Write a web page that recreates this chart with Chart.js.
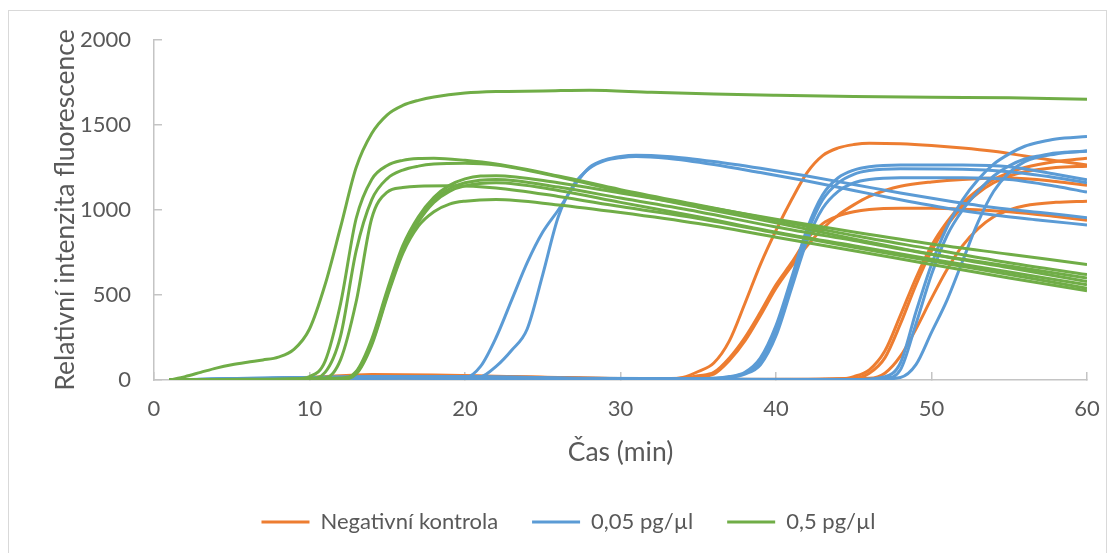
<!DOCTYPE html>
<html>
<head>
<meta charset="utf-8">
<script src="https://cdn.jsdelivr.net/npm/chart.js@4.4.1/dist/chart.umd.min.js"></script>
<style>
  html, body { margin: 0; padding: 0; background: #fff; }
  #frame { position: absolute; left: 8px; top: 10px; width: 1097px; height: 560px; border: 1px solid #d9d9d9; }
  #plot { position: absolute; left: 0; top: 0; }
</style>
</head>
<body>
<div id="frame"></div>
<canvas id="plot" width="1114" height="553"></canvas>
<script>
// fluorescence curves, [time (min), relative intensity]
const negativeControl = [
  [[1,0],[5,5],[10,15],[14,32],[18,30],[22,22],[26,14],[30,8],[33,5],[34,15],[35,50],[36,100],[37,230],[38,450],[39,680],[40,880],[41,1060],[42,1220],[43,1320],[44,1365],[45,1385],[46,1393],[48,1390],[50,1380],[52,1365],[54,1345],[56,1318],[58,1290],[60,1265]],
  [[1,0],[6,4],[12,12],[18,20],[24,15],[30,8],[34,10],[35,25],[36,45],[37,130],[38,250],[39,400],[40,560],[41,690],[42,830],[43,920],[44,965],[45,990],[46,1003],[48,1010],[50,1010],[52,1005],[55,990],[58,962],[60,940]],
  [[1,0],[6,3],[12,10],[18,18],[24,12],[30,6],[34,8],[35,20],[36,35],[37,115],[38,230],[39,380],[40,540],[41,670],[42,790],[43,890],[44,970],[45,1030],[46,1080],[47,1115],[48,1140],[50,1165],[52,1180],[55,1188],[58,1168],[60,1145]],
  [[1,0],[8,6],[15,20],[20,22],[28,10],[36,4],[44,3],[45,20],[46,60],[47,170],[48,380],[49,600],[50,790],[51,930],[52,1040],[53,1120],[54,1180],[55,1220],[56,1250],[58,1285],[60,1305]],
  [[1,0],[8,4],[15,15],[22,18],[30,8],[38,3],[45,10],[46,40],[47,130],[48,330],[49,560],[50,760],[51,910],[52,1020],[53,1100],[54,1160],[55,1200],[56,1225],[58,1250],[60,1258]],
  [[1,0],[8,3],[15,10],[22,12],[30,6],[40,2],[46,10],[47,40],[48,140],[49,300],[50,480],[51,650],[52,790],[53,890],[54,960],[55,1000],[56,1025],[58,1045],[60,1052]]
];

const conc005 = [
  [[1,0],[5,8],[10,15],[15,20],[19,15],[20,14],[21,80],[22,250],[23,470],[24,690],[25,870],[26,1000],[27,1140],[28,1250],[29,1295],[30,1315],[31,1322],[33,1315],[36,1285],[39,1245],[42,1200],[45,1150],[48,1100],[51,1055],[54,1015],[57,985],[60,955]],
  [[1,0],[5,6],[10,12],[15,18],[20,12],[21,18],[22,80],[23,175],[24,300],[25,620],[26,960],[27,1150],[28,1245],[29,1290],[30,1308],[31,1315],[33,1305],[36,1268],[39,1220],[42,1170],[45,1115],[48,1060],[51,1010],[54,970],[57,940],[60,912]],
  [[1,0],[6,10],[12,18],[20,20],[28,10],[35,8],[37,20],[38,45],[39,130],[40,320],[41,600],[42,890],[43,1090],[44,1190],[45,1235],[46,1255],[48,1265],[52,1265],[55,1255],[58,1210],[60,1178]],
  [[1,0],[6,8],[12,15],[20,18],[28,9],[35,6],[37,16],[38,40],[39,110],[40,290],[41,570],[42,860],[43,1060],[44,1160],[45,1210],[46,1232],[48,1242],[52,1240],[55,1225],[58,1190],[60,1160]],
  [[1,0],[6,7],[12,14],[20,16],[28,8],[35,5],[37,14],[38,35],[39,90],[40,260],[41,540],[42,820],[43,1010],[44,1110],[45,1160],[46,1180],[48,1190],[52,1190],[55,1180],[58,1140],[60,1105]],
  [[1,0],[8,10],[16,15],[25,8],[35,5],[45,3],[47,20],[48,100],[49,400],[50,680],[51,900],[52,1060],[53,1180],[54,1270],[55,1330],[56,1375],[57,1400],[58,1418],[60,1432]],
  [[1,0],[8,8],[16,12],[25,6],[35,4],[45,2],[47,10],[48,60],[49,330],[50,620],[51,850],[52,1000],[53,1110],[54,1200],[55,1260],[56,1300],[57,1320],[58,1335],[60,1345]],
  [[1,0],[8,6],[16,10],[25,5],[35,3],[46,2],[48,15],[49,90],[50,280],[51,470],[52,700],[53,930],[54,1110],[55,1220],[56,1285],[58,1330],[60,1348]]
];

const conc05 = [
  [[1,0],[2,20],[3,45],[4,70],[5,90],[6,105],[7,118],[8,135],[9,180],[10,300],[11,560],[12,900],[13,1250],[14,1450],[15,1560],[16,1615],[17,1645],[18,1665],[20,1688],[22,1697],[25,1700],[28,1705],[32,1692],[36,1682],[40,1675],[45,1668],[50,1663],[55,1660],[60,1652]],
  [[1,0],[5,3],[9,6],[10,20],[11,110],[12,450],[13,950],[14,1180],[15,1262],[16,1292],[17,1303],[18,1305],[20,1292],[22,1270],[26,1200],[30,1120],[35,1030],[40,940],[45,850],[50,770],[55,690],[60,620]],
  [[1,0],[5,2],[10,8],[11,45],[12,260],[13,760],[14,1060],[15,1185],[16,1235],[17,1258],[18,1270],[20,1275],[22,1265],[26,1195],[30,1110],[35,1015],[40,925],[45,830],[50,740],[55,660],[60,580]],
  [[1,0],[6,3],[11,12],[12,120],[13,460],[14,950],[15,1105],[16,1132],[17,1140],[19,1142],[22,1130],[26,1080],[30,1020],[35,950],[40,865],[45,780],[50,700],[55,620],[60,540]],
  [[1,0],[6,4],[12,12],[13,50],[14,240],[15,530],[16,790],[17,960],[18,1075],[19,1145],[20,1183],[21,1200],[22,1202],[26,1160],[30,1100],[35,1025],[40,945],[45,870],[50,800],[55,740],[60,680]],
  [[1,0],[6,3],[12,8],[13,45],[14,225],[15,515],[16,775],[17,945],[18,1060],[19,1125],[20,1160],[22,1180],[26,1135],[30,1070],[35,990],[40,900],[45,820],[50,740],[55,670],[60,600]],
  [[1,0],[6,2],[12,6],[13,40],[14,215],[15,500],[16,760],[17,930],[18,1045],[19,1110],[20,1142],[22,1160],[26,1115],[30,1045],[35,960],[40,870],[45,790],[50,710],[55,635],[60,560]],
  [[1,0],[6,2],[12,4],[13,35],[14,205],[15,490],[16,745],[17,905],[18,990],[19,1035],[20,1052],[22,1062],[26,1030],[30,985],[35,920],[40,840],[45,760],[50,680],[55,600],[60,525]]
];

const seriesNames = ['Negativní kontrola', '0,05 pg/µl', '0,5 pg/µl'];
const seriesColors = ['#ED7D31', '#5B9BD5', '#70AD47'];
const seriesCurves = [negativeControl, conc005, conc05];

const textColor = '#595959';
const axisColor = '#c4c4c4';
const tickFont = { family: 'Lato', size: 22 };
const titleFont = { family: 'Lato', size: 26.5 };

const datasets = [];
const firstIndex = [];
seriesCurves.forEach((curves, gi) => {
    firstIndex.push(datasets.length);
    curves.forEach(curve => {
        datasets.push({
            label: seriesNames[gi],
            data: curve.map(([x, y]) => ({ x, y })),
            borderColor: seriesColors[gi],
            backgroundColor: seriesColors[gi],
            borderWidth: 3,
            pointRadius: 0,
            fill: false,
            tension: 0.4,
            cubicInterpolationMode: 'monotone',
            // green on top, orange underneath
            order: 2 - gi
        });
    });
});

new Chart(document.getElementById('plot'), {
    type: 'line',
    data: { datasets },
    options: {
        responsive: false,
        animation: false,
        layout: { padding: { top: 40, right: 27, left: 50, bottom: 10 } },
        plugins: {
            tooltip: { enabled: false },
            legend: {
                position: 'bottom',
                labels: {
                    color: textColor,
                    font: tickFont,
                    boxWidth: 48,
                    boxHeight: 3,
                    padding: 34,
                    generateLabels: () => seriesNames.map((text, i) => ({
                        text,
                        fillStyle: seriesColors[i],
                        strokeStyle: seriesColors[i],
                        lineWidth: 0,
                        hidden: false,
                        datasetIndex: firstIndex[i],
                        fontColor: textColor
                    }))
                }
            }
        },
        scales: {
            x: {
                type: 'linear',
                min: 0,
                max: 60,
                afterFit: (scale) => {
                    scale.height = 97;
                    scale.paddingLeft = 0;
                    scale.paddingRight = 0;
                },
                border: { color: axisColor, width: 1.5 },
                grid: { drawOnChartArea: false, drawTicks: true, tickLength: -8, color: axisColor, lineWidth: 1.5 },
                ticks: { stepSize: 10, color: textColor, font: tickFont, padding: 24, maxRotation: 0 },
                title: { display: true, text: 'Čas (min)', color: textColor, font: titleFont, padding: { top: 0, bottom: 9 } }
            },
            y: {
                min: 0,
                max: 2000,
                afterFit: (scale) => {
                    scale.width = 104;
                    scale.paddingTop = 0;
                    scale.paddingBottom = 0;
                },
                border: { color: axisColor, width: 1.5 },
                grid: { drawOnChartArea: false, drawTicks: true, tickLength: -8, color: axisColor, lineWidth: 1.5 },
                ticks: { stepSize: 500, color: textColor, font: tickFont, padding: 31, callback: (v) => String(v) },
                title: { display: true, text: 'Relativní intenzita fluorescence', color: textColor, font: titleFont, padding: { top: 0, bottom: 0 } }
            }
        }
    }
});
</script>
</body>
</html>
